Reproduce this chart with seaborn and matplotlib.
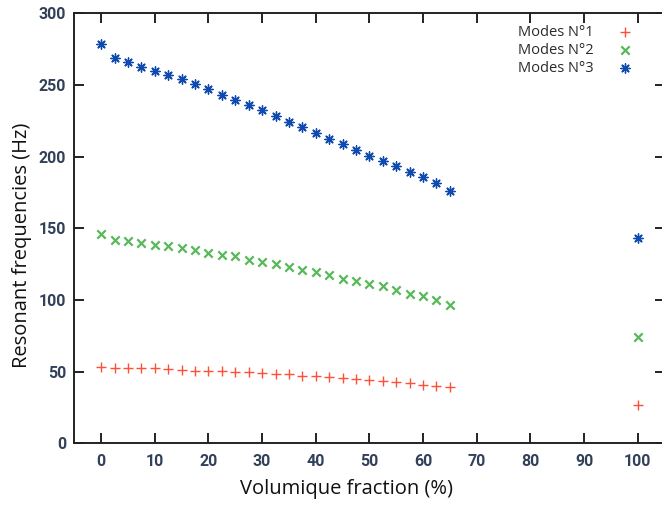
import numpy as np
import pandas as pd
import matplotlib
matplotlib.use("Agg")
import matplotlib.pyplot as plt
import seaborn as sns

# ---- data ----
fraction = [0, 2.5, 5, 7.5, 10, 12.5, 15, 17.5, 20, 22.5, 25, 27.5, 30, 32.5,
            35, 37.5, 40, 42.5, 45, 47.5, 50, 52.5, 55, 57.5, 60, 62.5, 65, 100]
mode1 = [53.0, 52.5, 52.4, 52.3, 52.2, 51.5, 51.3, 50.6, 50.4, 50.3, 49.8, 49.6,
         48.9, 48.3, 48.1, 47.3, 46.7, 46.5, 45.7, 44.8, 44.0, 43.2, 42.9, 42.3,
         40.9, 40.0, 39.0, 26.5]
mode2 = [145.8, 141.5, 140.8, 139.7, 138.3, 137.6, 136.6, 134.7, 133.1, 131.5,
         131.0, 128.0, 126.3, 124.9, 122.8, 121.1, 119.5, 117.5, 114.8, 112.9,
         111.0, 109.4, 107.0, 104.0, 102.6, 99.8, 96.7, 74.4]
mode3 = [278.6, 269.0, 265.8, 262.5, 260.0, 256.7, 253.9, 250.9, 247.2, 243.2,
         239.7, 235.8, 232.3, 228.1, 223.9, 220.4, 216.7, 212.3, 208.8, 204.6,
         200.6, 197.1, 193.2, 189.5, 185.6, 181.4, 176.2, 143.0]
series_names = ["Modes N°1", "Modes N°2", "Modes N°3"]
x_ticks = [0, 10, 20, 30, 40, 50, 60, 70, 80, 90, 100]
y_ticks = [0, 50, 100, 150, 200, 250, 300]

sns.set_style("ticks")
plt.rcParams["font.family"] = ["Open Sans", "DejaVu Sans"]

fig = plt.figure(figsize=(6.62, 5.05), dpi=100)
ax = fig.add_axes([74.3 / 662, (505 - 443.3) / 505, (664.5 - 74.3) / 662, 430 / 505])

styles = [
    (mode1, "+", "#ff4f36", 44, 1.0),
    (mode2, "x", "#58b85a", 36, 1.6),
    (mode3, (8, 2, 0), "#0f4aae", 44, 1.0),
]
for name, (vals, mk, col, sz, lw) in zip(series_names, styles):
    df = pd.DataFrame({"fraction": fraction, "freq": vals})
    sns.scatterplot(data=df, x="fraction", y="freq", marker=mk, color=col,
                    s=sz, linewidth=lw, label=name, ax=ax, zorder=3)

ax.set_xlim(-5, 105)
ax.set_ylim(0, 300)
ax.set_xticks(x_ticks)
ax.set_yticks(y_ticks)
ax.tick_params(direction="in", top=True, right=True, length=7, width=1.4,
               color="#222222")
ax.tick_params(axis="x", pad=8)
ax.tick_params(axis="y", pad=6)
for lab in ax.get_xticklabels() + ax.get_yticklabels():
    lab.set_fontfamily(["Roboto", "DejaVu Sans"])
    lab.set_fontweight("bold")
    lab.set_fontsize(11.5)
    lab.set_color("#33405a")
for sp in ax.spines.values():
    sp.set_linewidth(1.4)
    sp.set_color("#222222")

ax.set_xlabel("Volumique fraction (%)", fontsize=14.5, color="#111111")
ax.set_ylabel("Resonant frequencies (Hz)", fontsize=14.5, color="#111111")
ax.xaxis.set_label_coords(0.462, -0.082)
ax.yaxis.set_label_coords(-0.072, 0.461)

leg = ax.legend(loc="upper right", bbox_to_anchor=(0.978, 1.0), frameon=False,
                markerfirst=False, fontsize=10.5, labelspacing=0.2,
                handletextpad=1.2, borderaxespad=0.4)
for t in leg.get_texts():
    t.set_color("#2a2a2a")

fig.savefig("out.png", dpi=100)
